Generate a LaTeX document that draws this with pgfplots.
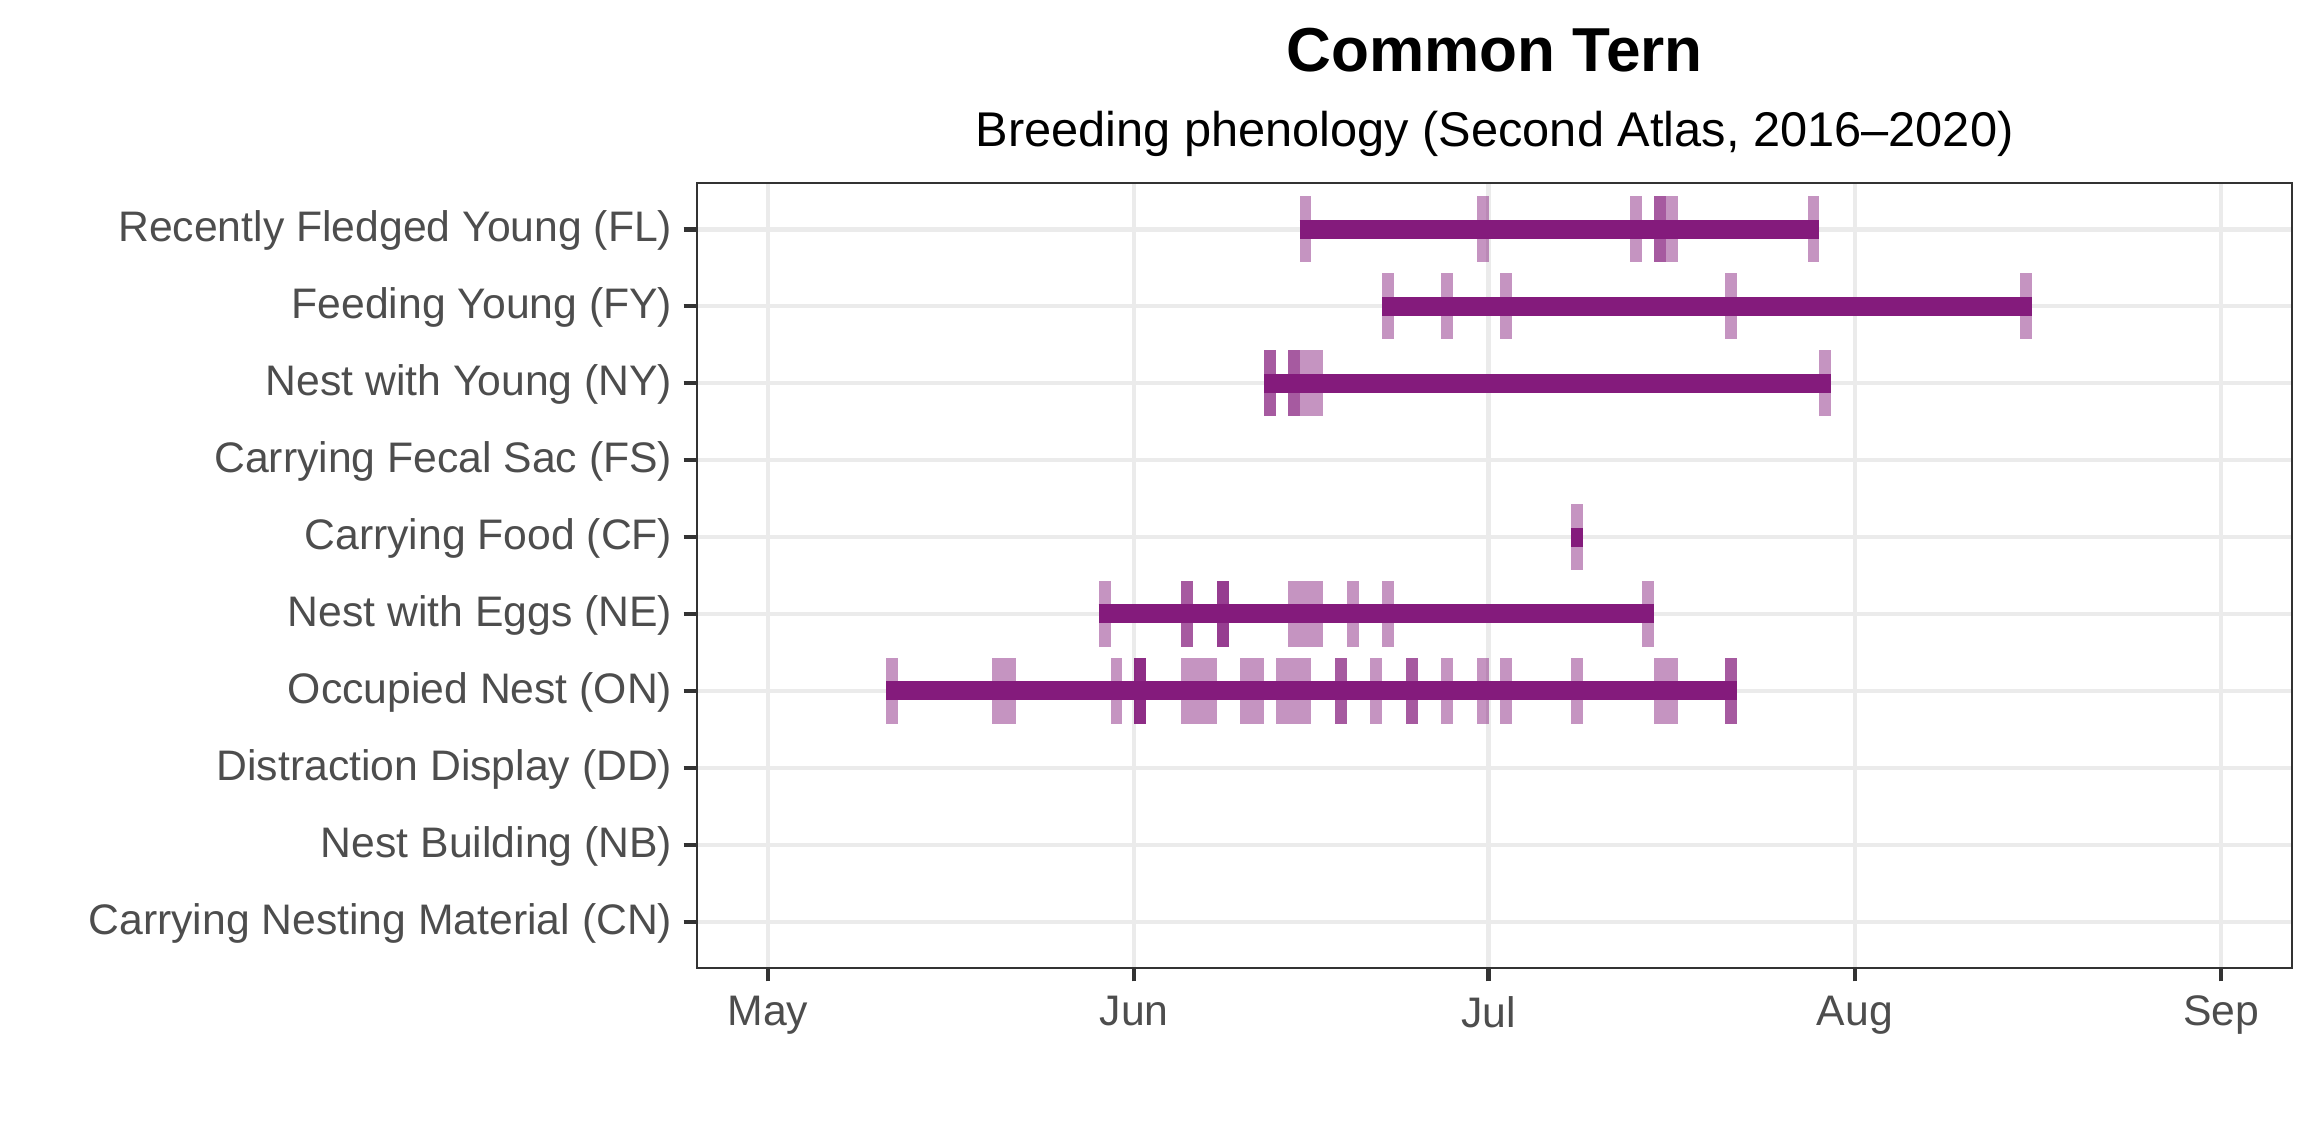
\documentclass[border=0pt]{standalone}
\usepackage{fontspec}
\setmainfont{Liberation Sans}
\usepackage{pgfplots}
\usepackage{pgfplotstable}
\pgfplotsset{compat=1.18}

\definecolor{tern}{RGB}{132,27,124}
\definecolor{gridgray}{RGB}{235,235,235}
\definecolor{axisgray}{RGB}{51,51,51}
\definecolor{labelgray}{RGB}{77,77,77}

% one observation = one day wide, drawn semi-transparent so repeats stack up
\pgfdeclareplotmark{obs}{%
  \pgfpathrectangle{\pgfpoint{-1.418pt}{-7.92pt}}{\pgfpoint{2.836pt}{15.84pt}}%
  \pgfusepathqfill}

% day = days since 1 May, row = 1 (CN) ... 10 (FL)
\pgfplotstableread{
day row
45 10
60 10
73 10
75 10
75 10
76 10
88 10
52 9
57 9
62 9
81 9
106 9
42 8
42 8
44 8
44 8
45 8
46 8
89 8
68 6
28 5
35 5
35 5
38 5
38 5
38 5
44 5
45 5
46 5
49 5
52 5
74 5
10 4
19 4
20 4
29 4
31 4
31 4
31 4
31 4
35 4
36 4
37 4
40 4
41 4
43 4
44 4
45 4
48 4
48 4
51 4
54 4
54 4
57 4
60 4
62 4
68 4
75 4
76 4
81 4
81 4
}\obsdata

\begin{document}
\begin{tikzpicture}
\path[use as bounding box] (0,0) rectangle (556.8pt,268.8pt);

\node[anchor=base, font=\bfseries\fontsize{14.9}{17}\selectfont]
  at (358.7pt,251.6pt) {Common Tern};
\node[anchor=base, font=\fontsize{11.7}{14}\selectfont]
  at (358.7pt,233.6pt) {Breeding phenology (Second Atlas, 2016–2020)};

\begin{axis}[
  at={(167.28pt,36.48pt)}, anchor=south west,
  scale only axis, width=382.8pt, height=188.4pt,
  xmin=-6, xmax=129, ymin=0.4, ymax=10.6,
  xtick={0,31,61,92,123},
  xticklabels={May,Jun,Jul,Aug,Sep},
  ytick={1,...,10},
  yticklabels={Carrying Nesting Material (CN),Nest Building (NB),
    Distraction Display (DD),Occupied Nest (ON),Nest with Eggs (NE),
    Carrying Food (CF),Carrying Fecal Sac (FS),Nest with Young (NY),
    Feeding Young (FY),Recently Fledged Young (FL)},
  xtick pos=left, ytick pos=left,
  tick align=outside, major tick length=3.2pt,
  tick style={color=axisgray, line width=1.12pt},
  grid=major,
  major grid style={color=gridgray, line width=1.12pt},
  axis line style={color=axisgray, line width=0.6pt},
  tick label style={font=\fontsize{10.25}{12}\selectfont, color=labelgray},
  yticklabel style={xshift=0.8pt, yshift=-0.3pt},
  clip=false,
]
\addplot[only marks, mark=obs, mark options={fill=tern, fill opacity=0.47}]
  table[x expr=\thisrow{day}+0.5, y=row] {\obsdata};

\addplot[tern, line width=4.56pt] coordinates {(45,10) (89,10)};
\addplot[tern, line width=4.56pt] coordinates {(52,9) (107,9)};
\addplot[tern, line width=4.56pt] coordinates {(42,8) (90,8)};
\addplot[tern, line width=4.56pt] coordinates {(68,6) (69,6)};
\addplot[tern, line width=4.56pt] coordinates {(28,5) (75,5)};
\addplot[tern, line width=4.56pt] coordinates {(10,4) (82,4)};
\end{axis}
\end{tikzpicture}
\end{document}
